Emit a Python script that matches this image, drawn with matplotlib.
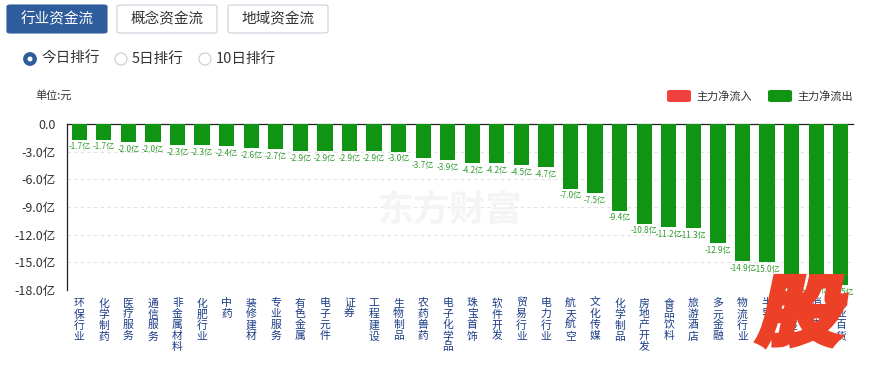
import matplotlib
matplotlib.use('Agg')
import matplotlib.pyplot as plt
from matplotlib.patches import FancyBboxPatch, Circle, PathPatch
from matplotlib.textpath import TextPath
from matplotlib.font_manager import FontProperties
from matplotlib.transforms import Affine2D

plt.rcParams['font.family'] = ['Noto Sans CJK SC', 'DejaVu Sans']

# data: main-force net outflow by industry (亿元)
industries = ['环保行业', '化学制药', '医疗服务', '通信服务', '非金属材料', '化肥行业', '中药',
              '装修建材', '专业服务', '有色金属', '电子元件', '证券', '工程建设', '生物制品',
              '农药兽药', '电子化学品', '珠宝首饰', '软件开发', '贸易行业', '电力行业', '航天航空',
              '文化传媒', '化学制品', '房地产开发', '食品饮料', '旅游酒店', '多元金融', '物流行业',
              '半导体', '汽车整车', '消费电子', '商业百货']
net_flow = [-1.7, -1.7, -2.0, -2.0, -2.3, -2.3, -2.4,
            -2.6, -2.7, -2.9, -2.9, -2.9, -2.9, -3.0,
            -3.7, -3.9, -4.2, -4.2, -4.5, -4.7, -7.0,
            -7.5, -9.4, -10.8, -11.2, -11.3, -12.9, -14.9,
            -15.0, -17.0, -17.3, -17.5]
y_ticks = [0, -3, -6, -9, -12, -15, -18]
tabs = ['行业资金流', '概念资金流', '地域资金流']
rank_options = ['今日排行', '5日排行', '10日排行']
legend_names = ['主力净流入', '主力净流出']

W, H = 869, 366
GREEN = '#0f9414'
RED = '#f04040'
BLUE = '#2e5c9c'

fig = plt.figure(figsize=(W / 100, H / 100), dpi=100)


def fx(x):
    return x / W


def fy(y):
    return 1 - y / H


# tab buttons
tab_x = [7, 117, 228]
for i, (name, x0) in enumerate(zip(tabs, tab_x)):
    active = i == 0
    box = FancyBboxPatch((fx(x0), fy(33)), fx(100), 28 / H,
                         boxstyle='round,pad=0,rounding_size=0.004',
                         facecolor=BLUE if active else 'white',
                         edgecolor=BLUE if active else '#c9d0da', linewidth=0.8,
                         transform=fig.transFigure)
    fig.add_artist(box)
    fig.text(fx(x0 + 50), fy(19), name, ha='center', va='center', fontsize=10.5,
             color='white' if active else '#333333')

# radio buttons
radio_x = [30, 121, 205]
for i, (name, cx) in enumerate(zip(rank_options, radio_x)):
    if i == 0:
        fig.add_artist(Circle((cx / 100, (H - 59) / 100), 0.062, facecolor=BLUE,
                              edgecolor=BLUE, transform=fig.dpi_scale_trans))
        fig.add_artist(Circle((cx / 100, (H - 59) / 100), 0.025, facecolor='white',
                              edgecolor='none', transform=fig.dpi_scale_trans))
    else:
        fig.add_artist(Circle((cx / 100, (H - 59) / 100), 0.06, facecolor='white',
                              edgecolor='#c8ccd4', linewidth=0.8,
                              transform=fig.dpi_scale_trans))
    fig.text(fx(cx + 11), fy(59), name, ha='left', va='center', fontsize=10.5, color='#333333')

fig.text(fx(35), fy(95), '单位:元', ha='left', va='center', fontsize=8, color='#333333')

# legend
for name, col, x0 in zip(legend_names, [RED, GREEN], [667, 768]):
    fig.add_artist(FancyBboxPatch((fx(x0), fy(102)), fx(24), 12 / H,
                                  boxstyle='round,pad=0,rounding_size=0.004',
                                  facecolor=col, edgecolor='none', transform=fig.transFigure))
    fig.text(fx(x0 + 29), fy(96), name, ha='left', va='center', fontsize=8, color='#333333')

# watermark
fig.text(fx(378), fy(210), '东方财富', ha='left', va='center', fontsize=26,
         fontweight='bold', color='#f4f4f4', zorder=0)

# main chart
ax = fig.add_axes([fx(67), fy(290), fx(853 - 67), (290 - 124) / H])
ax.patch.set_alpha(0)
xs = list(range(len(industries)))
bars = ax.bar(xs, net_flow, width=0.62, color=[GREEN if v < 0 else RED for v in net_flow],
              zorder=3)
for b in bars:
    b.set_clip_on(False)
for x, v in zip(xs, net_flow):
    ax.annotate(f'{v:.1f}亿', (x, v), xytext=(0, -2), textcoords='offset points',
                ha='center', va='top', fontsize=5.8, color='#2f9a2f', zorder=4,
                annotation_clip=False)

ax.set_xlim(-0.5, len(industries) - 0.5)
ax.set_ylim(-18, 0)
ax.set_yticks(y_ticks)
ax.set_yticklabels(['0.0'] + [f'{t:.1f}亿' for t in y_ticks[1:]])
ax.set_xticks(xs)
ax.set_xticklabels(['\n'.join(n) for n in industries], fontsize=7.8, color='#1b3c86',
                   linespacing=1.1, va='top')
ax.tick_params(axis='x', length=0, pad=6)
ax.tick_params(axis='y', length=0, pad=8, labelsize=9, labelcolor='#333333')
ax.yaxis.grid(True, linestyle=(0, (3, 3)), color='#e3e3e3', linewidth=0.8, zorder=0)
for s in ['right', 'bottom']:
    ax.spines[s].set_visible(False)
ax.spines['top'].set_color('#222222')
ax.spines['left'].set_color('#222222')
ax.spines['top'].set_linewidth(0.9)
ax.spines['left'].set_linewidth(0.9)

# red "股" badge in the corner
fp = FontProperties(family='Noto Sans CJK SC', weight='bold')
glyph = TextPath((0, 0), '股', size=100, prop=fp)
ext = glyph.get_extents()
gw, gh = 80, 68
tr = (Affine2D().translate(-ext.x0, -ext.y0)
      .scale(gw / ext.width, gh / ext.height)
      .skew_deg(12, 0)
      .translate(757, H - 345)
      .scale(1 / 100) + fig.dpi_scale_trans)
fig.add_artist(PathPatch(glyph, facecolor='#ec4126', edgecolor='#ec4126',
                         linewidth=4.5, joinstyle='miter', transform=tr, zorder=10))

fig.savefig('out.png', dpi=100)
